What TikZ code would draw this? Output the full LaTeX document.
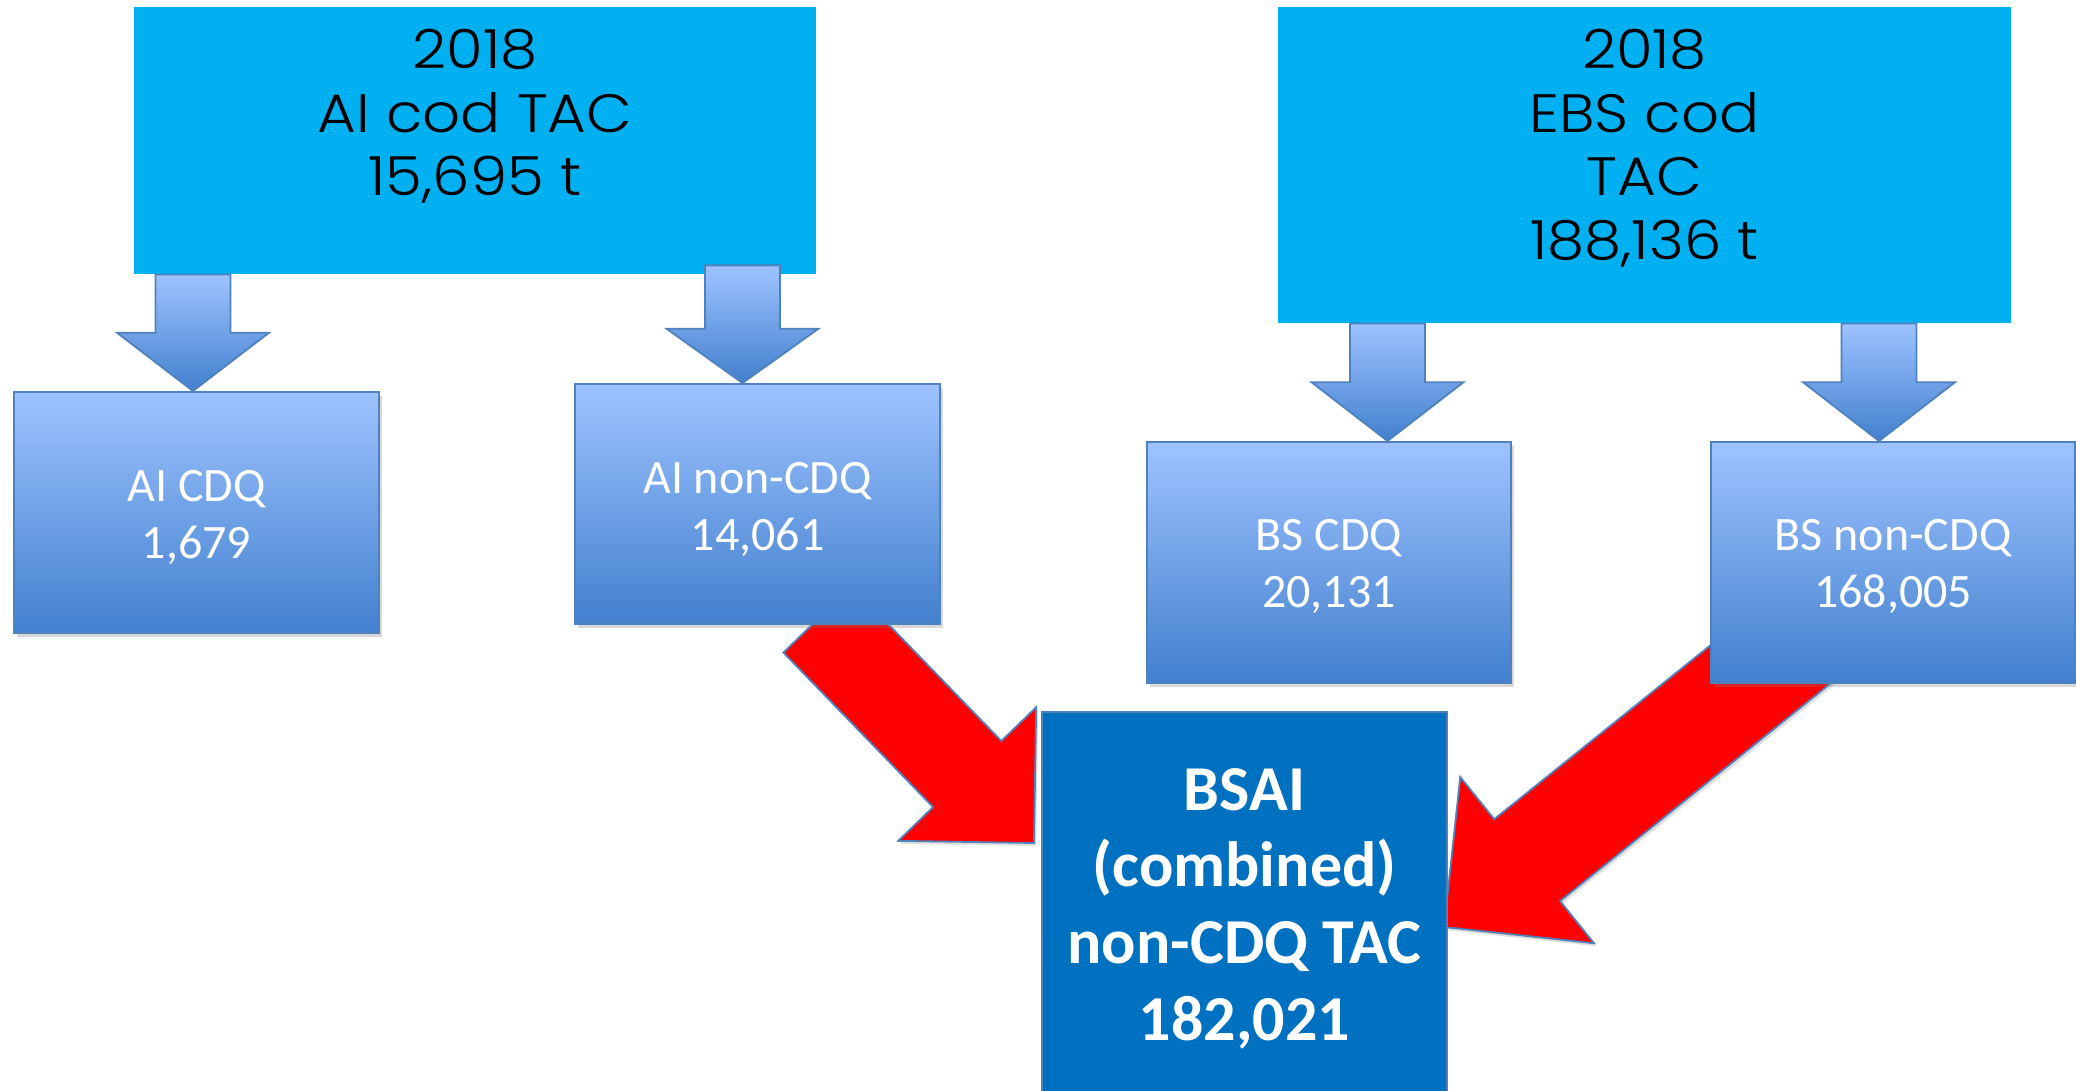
\documentclass[tikz,border=0pt]{standalone}
\usepackage{fontspec}
\setmainfont{Carlito}
\newfontfamily\headfont[FakeStretch=1.1]{Poppins Light}
\usetikzlibrary{calc,shadows}

\definecolor{tacblue}{HTML}{00B0F0}
\definecolor{quotatop}{RGB}{158,195,255}
\definecolor{quotabot}{RGB}{66,128,206}
\definecolor{edgeblue}{HTML}{4F81BD}
\definecolor{combblue}{HTML}{0070C0}
\definecolor{flowred}{HTML}{FF0000}

\pgfdeclarelayer{back}
\pgfsetlayers{back,main}

% block arrow pointing straight down from one box to the next
% #1 = extra overlap into the source box (px), #2 = x position (px), #3 = source, #4 = target
\newcommand{\splitarrow}[4][0]{%
  \draw[downblock] let \p1=(#3.south), \p2=(#4.north) in
    ({#2*0.5pt-18.75pt},{\y1+#1*0.5pt}) -- ({#2*0.5pt+18.75pt},{\y1+#1*0.5pt})
    -- ({#2*0.5pt+18.75pt},{(\y1+\y2)/2}) -- ({#2*0.5pt+38pt},{(\y1+\y2)/2})
    -- ({#2*0.5pt},\y2)
    -- ({#2*0.5pt-38pt},{(\y1+\y2)/2}) -- ({#2*0.5pt-18.75pt},{(\y1+\y2)/2})
    -- cycle;}

% slanted block arrow with a right-angled head
% #1 = tail, #2 = tip, #3 = shaft half width, #4 = head half width, #5 = head length
\newcommand{\mergearrow}[5]{%
  \coordinate (hb) at ($(#2)!#5!(#1)$);
  \draw[mergeblock] ($(#1)!#3!90:(#2)$) -- ($(hb)!#3!90:(#2)$)
    -- ($(hb)!#4!90:(#2)$) -- (#2) -- ($(hb)!#4!-90:(#2)$)
    -- ($(hb)!#3!-90:(#2)$) -- ($(#1)!#3!-90:(#2)$) -- cycle;}

\begin{document}
\begin{tikzpicture}[x=0.5pt,y=-0.5pt,
  box size/.style 2 args={minimum width={#1*0.5pt}, minimum height={#2*0.5pt}},
  tacbox/.style={fill=tacblue, inner sep=0pt},
  tactext/.style={inner sep=0pt, align=center, text=black,
    font=\headfont\fontsize{27}{31.75}\selectfont},
  quota/.style={top color=quotatop, bottom color=quotabot, draw=edgeblue,
    line width=1pt, inner sep=0pt,
    drop shadow={shadow xshift=1.5pt, shadow yshift=-2pt, opacity=0.3}},
  quotatext/.style={inner sep=0pt, align=center, text=white,
    font=\fontsize{24}{28.5}\selectfont},
  combined/.style={fill=combblue, draw=edgeblue, line width=1pt, inner sep=0pt},
  combinedtext/.style={inner sep=0pt, align=center, text=white,
    font=\bfseries\fontsize{32}{38.3}\selectfont},
  downblock/.style={top color=quotatop, bottom color=quotabot, draw=edgeblue,
    line width=0.9pt, line join=miter},
  mergeblock/.style={fill=flowred, draw=edgeblue, line width=0.9pt, line join=miter,
    drop shadow={shadow xshift=1pt, shadow yshift=-1.5pt, opacity=0.25}}]

\begin{pgfonlayer}{back}
  \fill[white] (0,0) rectangle (2076,1091);
\end{pgfonlayer}
\useasboundingbox (0,0) rectangle (2076,1091);

% overall TACs
\node[tacbox, box size={682}{267}] (aitac) at (475,140.5) {};
\node[tacbox, box size={733}{316}] (ebstac) at (1644.5,165) {};
\node[tactext, anchor=north] (aitac-text) at (475,29) {2018\\AI cod TAC\\15,695 t};
\node[tactext, anchor=north] (ebstac-text) at (1644.5,29) {2018\\EBS cod\\TAC\\188,136 t};

% CDQ / non-CDQ split
\node[quota, box size={365}{241}] (aicdq) at (196.5,512.5) {};
\node[quota, box size={365}{240}] (ainon) at (757.5,504) {};
\node[quota, box size={364}{241}] (bscdq) at (1329,562.5) {};
\node[quota, box size={364}{241}] (bsnon) at (1893,562.5) {};
\node[quotatext] (aicdq-text) at ($(aicdq.center)+(0,5)$) {AI CDQ\\1,679};
\node[quotatext] (ainon-text) at ($(ainon.center)+(0,5)$) {AI non-CDQ\\14,061};
\node[quotatext] (bscdq-text) at ($(bscdq.center)+(0,4)$) {BS CDQ\\20,131};
\node[quotatext] (bsnon-text) at ($(bsnon.center)+(0,4)$) {BS non-CDQ\\168,005};

% combined non-CDQ TAC
\node[combined, box size={405}{385}] (bsai) at (1244.5,904.5) {};
\node[combinedtext] (bsai-text) at ($(bsai.center)+(0,4)$)
  {BSAI\\(combined)\\non-CDQ TAC\\182,021};

% split arrows
\splitarrow{193}{aitac}{aicdq}
\splitarrow[9]{742.5}{aitac}{ainon}
\splitarrow{1387.5}{ebstac}{bscdq}
\splitarrow{1879}{ebstac}{bsnon}

% non-CDQ parts merging into the combined TAC
\coordinate (tail-ai) at ($(ainon.center)+(60,115.5)$);
\coordinate (tip-ai) at ($(bsai.west)+(-7,-61.5)$);
\coordinate (tail-bs) at ($(bsnon.center)+(-55,47.5)$);
\coordinate (tip-bs) at ($(bsai.east)+(-4,22.5)$);
\begin{pgfonlayer}{back}
  \mergearrow{tail-ai}{tip-ai}{23.75pt}{48pt}{48pt}
  \mergearrow{tail-bs}{tip-bs}{26.25pt}{53.35pt}{53.35pt}
\end{pgfonlayer}

\end{tikzpicture}
\end{document}
